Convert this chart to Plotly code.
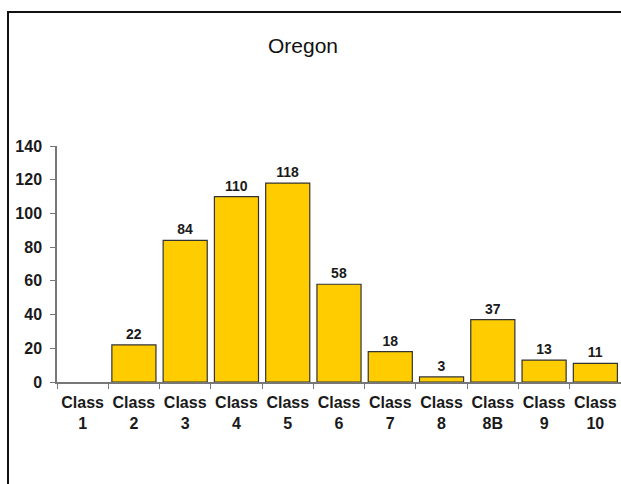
import plotly.graph_objects as go

categories = ["Class<br>1", "Class<br>2", "Class<br>3", "Class<br>4", "Class<br>5", "Class<br>6",
              "Class<br>7", "Class<br>8", "Class<br>8B", "Class<br>9", "Class<br>10"]
values = [0, 22, 84, 110, 118, 58, 18, 3, 37, 13, 11]
labels = ["" if v == 0 else str(v) for v in values]
y_ticks = [0, 20, 40, 60, 80, 100, 120, 140]

W, H = 621, 484
L, R, T, B = 57, 0, 146, 102
pw, ph = W - L - R, H - T - B
FONT = "Liberation Sans, Arial"

fig = go.Figure(go.Bar(
    x=categories, y=values, text=labels, textposition="outside",
    textfont=dict(family=FONT, size=14, color="#1a1a1a", weight="bold"),
    marker=dict(color="#FFCC00",
                line=dict(color="#333333", width=[0 if v == 0 else 1.2 for v in values])),
    width=0.86, cliponaxis=False,
))

def px(x):
    return (x - L) / pw

def py(y):
    return (H - B - y) / ph

fig.add_shape(type="path", xref="paper", yref="paper",
              path=f"M {px(8)} {py(H + 5)} L {px(8)} {py(12)} L {px(W + 5)} {py(12)}",
              line=dict(color="#111111", width=2))

fig.add_annotation(text="Oregon", xref="paper", yref="paper", x=px(303), y=py(45),
                   xanchor="center", yanchor="middle",
                   showarrow=False, font=dict(family=FONT, size=21, color="#111111"))

fig.update_layout(
    width=W, height=H, margin=dict(l=L, r=R, t=T, b=B, autoexpand=False),
    paper_bgcolor="white", plot_bgcolor="white", showlegend=False,
    font=dict(family=FONT, color="#1a1a1a"),
    xaxis=dict(type="category", showline=True, linecolor="#777777", linewidth=1.5,
               ticks="outside", tickson="boundaries", ticklen=5, tickcolor="#777777",
               tickfont=dict(size=16, family=FONT, weight="bold", color="#1a1a1a"),
               ticklabelstandoff=5, tickangle=0, automargin=False,
               showgrid=False, range=[-0.5, 10.5]),
    yaxis=dict(range=[0, 140], tickvals=y_ticks, showline=True, linecolor="#777777", linewidth=1.5,
               ticks="outside", ticklen=5, tickcolor="#777777", showgrid=False, zeroline=False,
               ticklabelstandoff=5, automargin=False,
               tickfont=dict(size=16, family=FONT, weight="bold", color="#1a1a1a")),
)

fig.write_html("out.html")
